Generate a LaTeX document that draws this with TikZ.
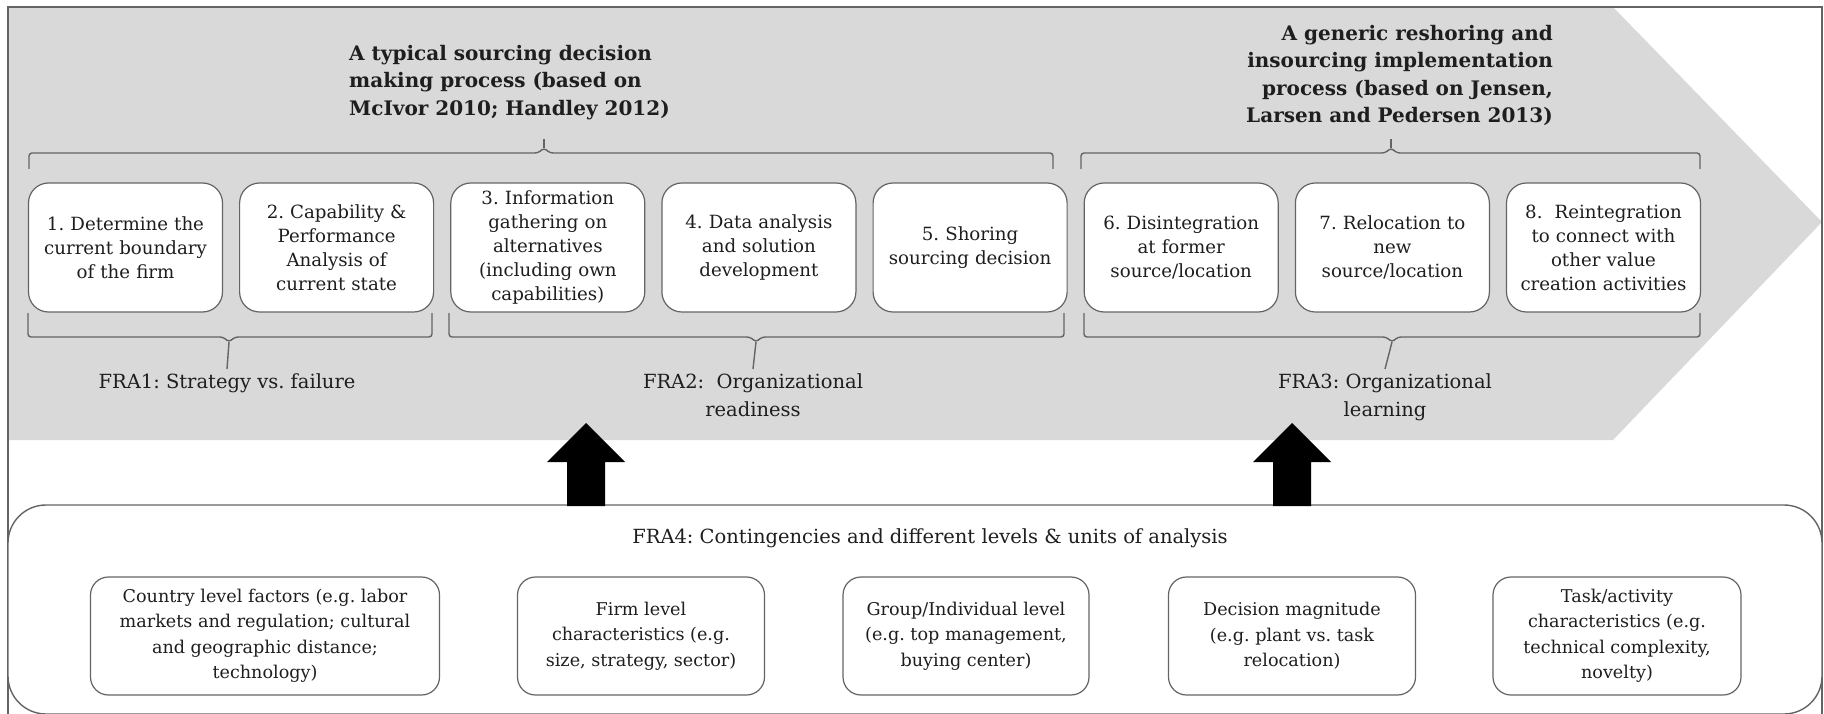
\documentclass[tikz,border=0pt]{standalone}
\usepackage{fontspec}
\setmainfont{DejaVu Serif}
\frenchspacing
\usetikzlibrary{calc}
\definecolor{bandgray}{RGB}{217,217,217}
\definecolor{linegray}{RGB}{100,100,100}
\definecolor{inkgray}{RGB}{30,30,30}
\newcommand{\bracketbelow}[4]{
	\draw [bracket] (#1,313) -- (#1,337) -- (#3-6,337) -- (#3,342) -- (#3+6,337) -- (#2,337) -- (#2,313);
	\draw [bracket] (#3,342) -- ([yshift=4pt]#4.north);
}
\newcommand{\bracketabove}[3]{
	\draw [bracket] (#1,169) -- (#1,153) -- (#3-6,153) -- (#3,148) -- (#3+6,153) -- (#2,153) -- (#2,169);
	\draw [bracket] (#3,148) -- (#3,139);
}
\newcommand{\blockarrow}[1]{
	\fill [black] (#1) ++(-19,0) -- ++(0,-44) -- ++(-20,0) -- ++(39,-39) -- ++(39,39) -- ++(-20,0) -- ++(0,44) -- cycle;
}

\begin{document}
\begin{tikzpicture}[x=1pt,y=-1pt,text=inkgray,
	bracket/.style={draw=linegray,line width=1.4pt,rounded corners=3pt},
	stepbox/.style={draw=linegray,line width=1.2pt,fill=white,rounded corners=20pt,minimum width=194pt,minimum height=129pt,text width=190pt,align=center,inner sep=0pt,font=\fontsize{18.2}{24}\selectfont},
	factorbox/.style={draw=linegray,line width=1.2pt,fill=white,rounded corners=18pt,minimum height=118pt,inner sep=0pt,align=center,font=\fontsize{17.6}{25.5}\selectfont},
	fralabel/.style={align=center,inner sep=0pt,font=\fontsize{19.5}{28}\selectfont},
	headline/.style={inner sep=0pt,font=\bfseries\fontsize{20}{27.5}\selectfont}]
\useasboundingbox (0,0) rectangle (1824,714);

\fill [bandgray] (8,7) -- (1613,7) -- (1822,222) -- (1613,440) -- (8,440) -- cycle;
\draw [linegray,line width=1.4pt] (8,714) -- (8,7) -- (1822,7) -- (1822,714);

\node [headline,anchor=west,align=left]	(H1)	at (349,82.5)	{A typical sourcing decision\\making process (based on\\McIvor 2010; Handley 2012)};
\node [headline,anchor=east,align=right]	(H2)	at (1553,75.5)	{A generic reshoring and\\insourcing implementation\\process (based on Jensen,\\Larsen and Pedersen 2013)};

\node [stepbox]	(B1)	at (125.5,247.5)	{1. Determine the\\current boundary\\of the firm};
\node [stepbox]	(B2)	at (336.6,247.5)	{2. Capability \&\\Performance\\Analysis of\\current state};
\node [stepbox]	(B3)	at (547.8,247.5)	{3. Information\\gathering on\\alternatives\\(including own\\capabilities)};
\node [stepbox]	(B4)	at (758.9,247.5)	{4. Data analysis\\and solution\\development};
\node [stepbox]	(B5)	at (970.1,247.5)	{5. Shoring\\sourcing decision};
\node [stepbox]	(B6)	at (1181.2,247.5)	{6. Disintegration\\at former\\source/location};
\node [stepbox]	(B7)	at (1392.4,247.5)	{7. Relocation to\\new\\source/location};
\node [stepbox]	(B8)	at (1603.5,247.5)	{8.~~Reintegration\\to connect with\\other value\\creation activities};

\bracketabove{29}{1053}{544}
\bracketabove{1081}{1700}{1391}

\node [fralabel,anchor=north]	(L1)	at (227,373)	{FRA1: Strategy vs. failure};
\node [fralabel,anchor=north]	(L2)	at (753,373)	{FRA2:~ Organizational\\readiness};
\node [fralabel,anchor=north]	(L3)	at (1385,373)	{FRA3: Organizational\\learning};

\bracketbelow{28}{432}{229}{L1}
\bracketbelow{449}{1064}{756}{L2}
\bracketbelow{1084}{1700}{1392}{L3}

\draw [linegray,line width=1.4pt,fill=white,rounded corners=38pt] (8,505) rectangle (1822,714);
\node [fralabel]	(L4)	at (930,538)	{FRA4: Contingencies and different levels \& units of analysis};

\coordinate (A1)	at (586,506);
\coordinate (A2)	at (1292,506);
\blockarrow{A1}
\blockarrow{A2}

\node [factorbox,minimum width=349pt]	(F1)	at (265,636)	{Country level factors (e.g. labor\\markets and regulation; cultural\\and geographic distance;\\technology)};
\node [factorbox,minimum width=247pt]	(F2)	at (641,636)	{Firm level\\characteristics (e.g.\\size, strategy, sector)};
\node [factorbox,minimum width=246pt]	(F3)	at (966,636)	{Group/Individual level\\(e.g. top management,\\buying center)};
\node [factorbox,minimum width=247pt]	(F4)	at (1292,636)	{Decision magnitude\\(e.g. plant vs. task\\relocation)};
\node [factorbox,minimum width=248pt]	(F5)	at (1617,636)	{Task/activity\\characteristics (e.g.\\technical complexity,\\novelty)};
\end{tikzpicture}
\end{document}
